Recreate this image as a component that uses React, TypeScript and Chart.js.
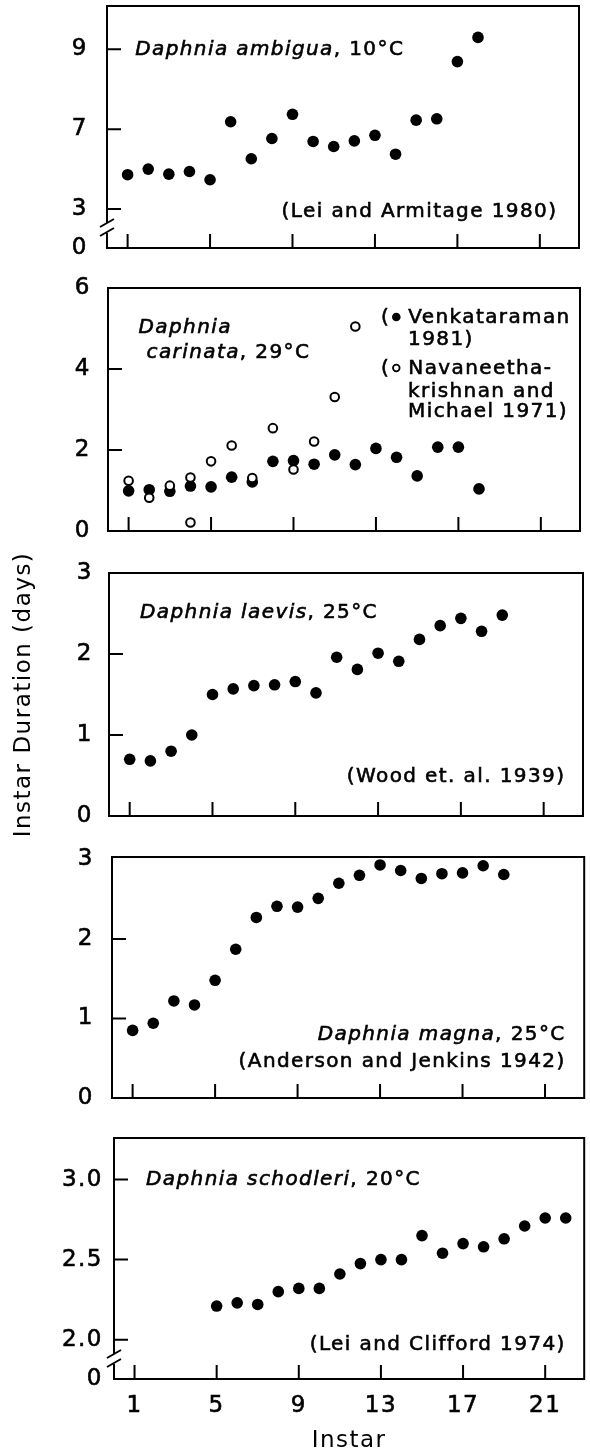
import React, { useEffect, useRef } from "react";
import { Chart, registerables } from "chart.js";

Chart.register(...registerables);

const FONT_FAMILY = '"DejaVu Sans", "Liberation Sans", sans-serif';

// ---------- shared axis text ----------
const X_TICKS = [1, 5, 9, 13, 17, 21];
const X_TICK_LABELS = ["1", "5", "9", "13", "17", "21"];
const X_TITLE = "Instar";
const Y_TITLE = "Instar Duration (days)";

// ---------- Daphnia ambigua, 10°C ----------
const AMBIGUA_INSTARS = [1, 2, 3, 4, 5, 6, 7, 8, 9, 10, 11, 12, 13, 14, 15, 16, 17, 18];
const AMBIGUA_DAYS = [4.29, 4.5, 4.31, 4.41, 4.1, 6.28, 4.89, 5.65, 6.56, 5.54, 5.35, 5.56, 5.77, 5.06, 6.34, 6.39, 8.54, 9.45];
const AMBIGUA_Y_TICKS = [3, 6, 9];
const AMBIGUA_Y_LABELS = ["3", "7", "9"];

// ---------- Daphnia carinata, 29°C ----------
const CARINATA_V_INSTARS = [1, 2, 3, 4, 5, 6, 7, 8, 9, 10, 11, 12, 13, 14, 15, 16, 17, 18];
const CARINATA_V_DAYS = [0.99, 1.02, 0.98, 1.11, 1.09, 1.33, 1.21, 1.72, 1.74, 1.65, 1.88, 1.64, 2.04, 1.82, 1.36, 2.07, 2.07, 1.04];
const CARINATA_N_INSTARS = [1, 2, 3, 4, 4, 5, 6, 7, 8, 9, 10, 11, 12];
const CARINATA_N_DAYS = [1.24, 0.82, 1.12, 1.32, 0.21, 1.72, 2.11, 1.31, 2.54, 1.52, 2.21, 3.31, 5.05];
const CARINATA_Y_TICKS = [0, 2, 4, 6];
const CARINATA_Y_LABELS = ["0", "2", "4", "6"];

// ---------- Daphnia laevis, 25°C ----------
const LAEVIS_INSTARS = [1, 2, 3, 4, 5, 6, 7, 8, 9, 10, 11, 12, 13, 14, 15, 16, 17, 18, 19];
const LAEVIS_DAYS = [0.7, 0.68, 0.8, 1.0, 1.5, 1.57, 1.61, 1.62, 1.66, 1.52, 1.96, 1.81, 2.01, 1.91, 2.18, 2.35, 2.44, 2.28, 2.48];
const LAEVIS_Y_TICKS = [0, 1, 2, 3];
const LAEVIS_Y_LABELS = ["0", "1", "2", "3"];

// ---------- Daphnia magna, 25°C ----------
const MAGNA_INSTARS = [1, 2, 3, 4, 5, 6, 7, 8, 9, 10, 11, 12, 13, 14, 15, 16, 17, 18, 19];
const MAGNA_DAYS = [0.85, 0.94, 1.22, 1.17, 1.48, 1.87, 2.27, 2.41, 2.4, 2.51, 2.7, 2.8, 2.93, 2.86, 2.76, 2.82, 2.83, 2.92, 2.81];
const MAGNA_Y_TICKS = [0, 1, 2, 3];
const MAGNA_Y_LABELS = ["0", "1", "2", "3"];

// ---------- Daphnia schodleri, 20°C ----------
const SCHODLERI_INSTARS = [5, 6, 7, 8, 9, 10, 11, 12, 13, 14, 15, 16, 17, 18, 19, 20, 21, 22];
const SCHODLERI_DAYS = [2.21, 2.23, 2.22, 2.3, 2.32, 2.32, 2.41, 2.475, 2.5, 2.5, 2.65, 2.54, 2.6, 2.58, 2.63, 2.71, 2.76, 2.76];
const SCHODLERI_Y_TICKS = [2.0, 2.5, 3.0];
const SCHODLERI_Y_LABELS = ["2.0", "2.5", "3.0"];

const BREAK_LABEL = "0";

// ---------- styling / layout ----------
const X_MIN = 0;
const X_MAX = 22.9;
const TICK_FONT = 23;
const TITLE_FONT = 23;
const NOTE_FONT = 20;
const NOTE_SPACING = "1.4px";
const LABEL_SPACING = "1.5px";
const TICK_LEN = 14;
const MARKER_W = 18;
const DOT_R = 5.8;
const RING_R = 4.3;
const TEXT_STROKE = 0.6;

type Part = { t?: string; i?: boolean; marker?: "filled" | "open" };
type Note = { x: number; y: number; align?: "left" | "right"; parts: Part[] };
type Series = { instars: number[]; days: number[]; open?: boolean };
type Box = { top: number; bottom: number; left: number; right: number; canvasTop: number; canvasBottom: number };
type PanelSpec = {
  id: string;
  series: Series[];
  yMin: number;
  yMax: number;
  yTicks: number[];
  yLabels: string[];
  breakAxis?: boolean;
  notes: Note[];
  box: Box;
  tickPad: number;
  showX?: boolean;
  yTitle?: boolean;
};

const PANELS: PanelSpec[] = [
  {
    id: "ambigua",
    series: [{ instars: AMBIGUA_INSTARS, days: AMBIGUA_DAYS }],
    yMin: 1.535,
    yMax: 10.63,
    yTicks: AMBIGUA_Y_TICKS,
    yLabels: AMBIGUA_Y_LABELS,
    breakAxis: true,
    notes: [
      { x: 1.37, y: 9.0, parts: [{ t: "Daphnia ambigua", i: true }, { t: ", 10°C" }] },
      { x: 21.85, y: 2.91, align: "right", parts: [{ t: "(Lei and Armitage 1980)" }] },
    ],
    box: { top: 6, bottom: 248, left: 107, right: 579, canvasTop: 0, canvasBottom: 270 },
    tickPad: 19,
  },
  {
    id: "carinata",
    series: [
      { instars: CARINATA_N_INSTARS, days: CARINATA_N_DAYS, open: true },
      { instars: CARINATA_V_INSTARS, days: CARINATA_V_DAYS },
    ],
    yMin: 0,
    yMax: 6,
    yTicks: CARINATA_Y_TICKS,
    yLabels: CARINATA_Y_LABELS,
    notes: [
      { x: 1.48, y: 5.02, parts: [{ t: "Daphnia", i: true }] },
      { x: 1.87, y: 4.4, parts: [{ t: "carinata", i: true }, { t: ", 29°C" }] },
      { x: 13.25, y: 5.26, parts: [{ t: "(" }, { marker: "filled" }, { t: "Venkataraman" }] },
      { x: 14.56, y: 4.72, parts: [{ t: "1981)" }] },
      { x: 13.25, y: 4.0, parts: [{ t: "(" }, { marker: "open" }, { t: "Navaneetha-" }] },
      { x: 14.56, y: 3.43, parts: [{ t: "krishnan and" }] },
      { x: 14.56, y: 2.94, parts: [{ t: "Michael 1971)" }] },
    ],
    box: { top: 288, bottom: 531, left: 108, right: 580, canvasTop: 268, canvasBottom: 551 },
    tickPad: 17,
  },
  {
    id: "laevis",
    series: [{ instars: LAEVIS_INSTARS, days: LAEVIS_DAYS }],
    yMin: 0,
    yMax: 3,
    yTicks: LAEVIS_Y_TICKS,
    yLabels: LAEVIS_Y_LABELS,
    notes: [
      { x: 1.5, y: 2.51, parts: [{ t: "Daphnia laevis", i: true }, { t: ", 25°C" }] },
      { x: 22.05, y: 0.48, align: "right", parts: [{ t: "(Wood et. al. 1939)" }] },
    ],
    box: { top: 573, bottom: 816, left: 109, right: 583, canvasTop: 548, canvasBottom: 840 },
    tickPad: 16,
    yTitle: true,
  },
  {
    id: "magna",
    series: [{ instars: MAGNA_INSTARS, days: MAGNA_DAYS }],
    yMin: 0,
    yMax: 3.03,
    yTicks: MAGNA_Y_TICKS,
    yLabels: MAGNA_Y_LABELS,
    notes: [
      { x: 22.0, y: 0.79, align: "right", parts: [{ t: "Daphnia magna", i: true }, { t: ", 25°C" }] },
      { x: 22.0, y: 0.45, align: "right", parts: [{ t: "(Anderson and Jenkins 1942)" }] },
    ],
    box: { top: 857, bottom: 1098, left: 112, right: 585, canvasTop: 838, canvasBottom: 1118 },
    tickPad: 18,
  },
  {
    id: "schodleri",
    series: [{ instars: SCHODLERI_INSTARS, days: SCHODLERI_DAYS }],
    yMin: 1.754,
    yMax: 3.26,
    yTicks: SCHODLERI_Y_TICKS,
    yLabels: SCHODLERI_Y_LABELS,
    breakAxis: true,
    notes: [
      { x: 1.56, y: 3.0, parts: [{ t: "Daphnia schodleri", i: true }, { t: ", 20°C" }] },
      { x: 22.0, y: 1.97, align: "right", parts: [{ t: "(Lei and Clifford 1974)" }] },
    ],
    box: { top: 1138, bottom: 1379, left: 114, right: 587, canvasTop: 1116, canvasBottom: 1453 },
    tickPad: 11,
    showX: true,
  },
];

function noteFont(italic?: boolean) {
  return `${italic ? "italic " : ""}${NOTE_FONT}px ${FONT_FAMILY}`;
}

function PanelChart({ spec }: { spec: PanelSpec }) {
  const ref = useRef<HTMLCanvasElement>(null);
  const box = spec.box;
  const h = box.canvasBottom - box.canvasTop;

  useEffect(() => {
    const canvas = ref.current;
    if (!canvas) return;

    const allTicks = spec.breakAxis ? [spec.yMin, ...spec.yTicks] : spec.yTicks;
    const allLabels = spec.breakAxis ? [BREAK_LABEL, ...spec.yLabels] : spec.yLabels;

    const datasets = spec.series.map((s) => ({
      data: s.instars.map((x, k) => ({ x, y: s.days[k] })),
      showLine: false,
      pointStyle: "circle" as const,
      pointRadius: s.open ? RING_R : DOT_R,
      pointHoverRadius: s.open ? RING_R : DOT_R,
      pointBackgroundColor: s.open ? "#ffffff" : "#000000",
      pointBorderColor: "#000000",
      pointBorderWidth: s.open ? 2 : 0,
      clip: false as any,
    }));

    const framePlugin = {
      id: "frame_" + spec.id,
      beforeDraw(chart: any) {
        chart.ctx.letterSpacing = LABEL_SPACING;
      },
      beforeDatasetsDraw(chart: any) {
        const { ctx, chartArea } = chart;
        const { left: L, right: R, top: T, bottom: B } = chartArea;
        const xs = chart.scales.x;
        const ys = chart.scales.y;
        ctx.save();
        ctx.letterSpacing = "0px";
        ctx.strokeStyle = "#000";
        ctx.lineWidth = 2;
        ctx.lineCap = "square";
        ctx.beginPath();
        ctx.moveTo(L, T);
        ctx.lineTo(R, T);
        ctx.lineTo(R, B);
        ctx.lineTo(L, B);
        if (spec.breakAxis) {
          ctx.lineTo(L, B - 14);
          ctx.moveTo(L, B - 26);
          ctx.lineTo(L, T);
        } else {
          ctx.lineTo(L, T);
        }
        ctx.stroke();
        ctx.lineCap = "butt";
        ctx.beginPath();
        for (const v of X_TICKS) {
          const px = xs.getPixelForValue(v);
          ctx.moveTo(px, B);
          ctx.lineTo(px, B - TICK_LEN);
        }
        for (const v of spec.yTicks) {
          const py = ys.getPixelForValue(v);
          if (Math.abs(py - T) < 5 || Math.abs(py - B) < 5) continue;
          ctx.moveTo(L, py);
          ctx.lineTo(L + TICK_LEN, py);
        }
        if (spec.breakAxis) {
          for (const mid of [B - 25, B - 16]) {
            ctx.moveTo(L - 7, mid + 4);
            ctx.lineTo(L + 7, mid - 4);
          }
        }
        ctx.stroke();
        ctx.restore();
      },
      afterDatasetsDraw(chart: any) {
        const { ctx } = chart;
        const xs = chart.scales.x;
        const ys = chart.scales.y;
        ctx.save();
        ctx.fillStyle = "#000";
        ctx.strokeStyle = "#000";
        ctx.textBaseline = "middle";
        ctx.textAlign = "left";
        ctx.letterSpacing = NOTE_SPACING;
        for (const n of spec.notes) {
          const widths = n.parts.map((p) => {
            if (p.marker) return MARKER_W;
            ctx.font = noteFont(p.i);
            return ctx.measureText(p.t || "").width;
          });
          const total = widths.reduce((a, b) => a + b, 0);
          let x = xs.getPixelForValue(n.x);
          if (n.align === "right") x -= total;
          const y = ys.getPixelForValue(n.y);
          n.parts.forEach((p, k) => {
            if (p.marker) {
              ctx.beginPath();
              if (p.marker === "filled") {
                ctx.arc(x + 6, y - 1, 4.3, 0, Math.PI * 2);
                ctx.fill();
              } else {
                ctx.lineWidth = 1.8;
                ctx.arc(x + 6, y - 1, 3.3, 0, Math.PI * 2);
                ctx.stroke();
              }
            } else {
              ctx.font = noteFont(p.i);
              ctx.lineWidth = TEXT_STROKE;
              ctx.strokeText(p.t || "", x, y);
              ctx.fillText(p.t || "", x, y);
            }
            x += widths[k];
          });
        }
        ctx.restore();
      },
    };

    const chart = new Chart(canvas, {
      type: "scatter",
      data: { datasets },
      plugins: [framePlugin],
      options: {
        responsive: false,
        maintainAspectRatio: false,
        animation: false,
        events: [],
        layout: {
          padding: { top: box.top - box.canvasTop, right: 590 - box.right, left: 0, bottom: 0 },
        },
        plugins: {
          legend: { display: false },
          tooltip: { enabled: false },
        },
        scales: {
          x: {
            type: "linear",
            position: "bottom",
            min: X_MIN,
            max: X_MAX,
            grid: { display: false, drawTicks: false },
            border: { display: false },
            afterBuildTicks: (scale: any) => {
              scale.ticks = X_TICKS.map((v) => ({ value: v }));
            },
            afterFit: (scale: any) => {
              scale.height = box.canvasBottom - box.bottom;
              scale.paddingLeft = 0;
              scale.paddingRight = 0;
              scale.paddingTop = 0;
              scale.paddingBottom = 0;
            },
            ticks: {
              display: !!spec.showX,
              autoSkip: false,
              maxRotation: 0,
              padding: 13,
              color: "#000",
              textStrokeColor: "#000",
              textStrokeWidth: TEXT_STROKE,
              font: { family: FONT_FAMILY, size: TICK_FONT },
              callback: (_v: any, i: number) => X_TICK_LABELS[i],
            },
            title: {
              display: !!spec.showX,
              text: X_TITLE,
              color: "#000",
              font: { family: FONT_FAMILY, size: TITLE_FONT, lineHeight: 1 },
              padding: 0,
            },
          },
          y: {
            type: "linear",
            position: "left",
            min: spec.yMin,
            max: spec.yMax,
            grid: { display: false, drawTicks: false },
            border: { display: false },
            afterBuildTicks: (scale: any) => {
              scale.ticks = allTicks.map((v) => ({ value: v }));
            },
            afterFit: (scale: any) => {
              scale.width = box.left;
              scale.paddingLeft = 0;
              scale.paddingRight = 0;
              scale.paddingTop = 0;
              scale.paddingBottom = 0;
            },
            ticks: {
              autoSkip: false,
              padding: spec.tickPad,
              color: "#000",
              textStrokeColor: "#000",
              textStrokeWidth: TEXT_STROKE,
              font: { family: FONT_FAMILY, size: TICK_FONT },
              callback: (_v: any, i: number) => allLabels[i],
            },
            title: {
              display: !!spec.yTitle,
              text: Y_TITLE,
              color: "#000",
              font: { family: FONT_FAMILY, size: TITLE_FONT, lineHeight: 1 },
              padding: { top: 13, bottom: 0 },
            },
          },
        },
      } as any,
    });
    return () => chart.destroy();
  }, [spec]);

  return (
    <canvas
      ref={ref}
      width={590}
      height={h}
      style={{ position: "absolute", left: 0, top: box.canvasTop, width: 590, height: h }}
    />
  );
}

export default function App() {
  return (
    <div
      style={{
        position: "absolute",
        left: 0,
        top: 0,
        width: 590,
        height: 1453,
        overflow: "hidden",
        background: "#ffffff",
      }}
    >
      {PANELS.map((p) => (
        <PanelChart key={p.id} spec={p} />
      ))}
    </div>
  );
}
